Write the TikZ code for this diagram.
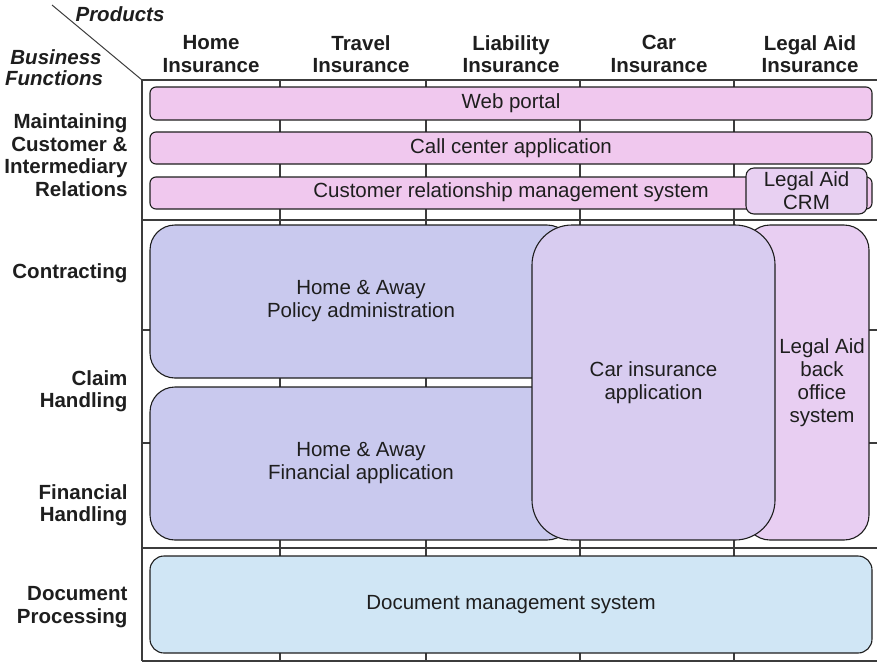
\documentclass[tikz,border=0pt]{standalone}
\usepackage{fontspec}
\setmainfont{Liberation Sans}
\definecolor{pinkbar}{RGB}{240,200,238}
\definecolor{lacrm}{RGB}{232,208,242}
\definecolor{hablue}{RGB}{201,201,238}
\definecolor{carlav}{RGB}{216,204,240}
\definecolor{labo}{RGB}{232,206,242}
\definecolor{docblue}{RGB}{208,230,245}
\definecolor{ink}{RGB}{30,30,30}
\definecolor{gridc}{RGB}{60,60,60}
\begin{document}
\begin{tikzpicture}[x=1pt,y=-1pt,
  gridline/.style={draw=gridc,line width=1.3pt},
  box/.style={draw=ink,line width=1.1pt,inner sep=0pt,align=center,text=ink,
    font=\fontsize{20.5}{23}\selectfont},
  head/.style={align=center,text=ink,font=\fontsize{20.5}{22.5}\selectfont\bfseries},
  rowlab/.style={align=right,anchor=east,text=ink,font=\fontsize{20.5}{22.5}\selectfont\bfseries},
  corner/.style={text=ink,font=\fontsize{20.5}{21}\selectfont\bfseries\itshape},
  txt/.style={align=center,text=ink,font=\fontsize{20.5}{23}\selectfont}]
\useasboundingbox (0,0) rectangle (877,662);
% grid
\foreach \yy in {80,220,330,443,548,661} \draw[gridline] (142,\yy) -- (878,\yy);
\foreach \xx in {142,280,426,580,734} \draw[gridline] (\xx,80) -- (\xx,661);
\draw[gridline,line width=1pt] (52,5) -- (142,80);
% corner labels
\node[corner] (prod) at (120,14) {Products};
\node[corner] (bus) at (56,57) {Business};
\node[corner] (fun) at (54,78) {Functions};
% column headers
\node[head] (h1) at (211,54) {Home\\Insurance};
\node[head] (h2) at (361,54) {Travel\\Insurance};
\node[head] (h3) at (511,54) {Liability\\Insurance};
\node[head] (h4) at (659,54) {Car\\Insurance};
\node[head] (h5) at (810,54) {Legal Aid\\Insurance};
% row labels
\node[rowlab] (r1) at (131,155) {Maintaining\\Customer \&\\Intermediary\\Relations};
\node[rowlab] (r2) at (131,273) {Contracting};
\node[rowlab] (r3) at (131,391) {Claim\\Handling};
\node[rowlab] (r4) at (131,505) {Financial\\Handling};
\node[rowlab] (r5) at (131,607) {Document\\Processing};
% bars
\node[box,fill=pinkbar,rounded corners=6pt,minimum width=722pt,minimum height=33pt] (web) at (511,103.5) {Web portal};
\node[box,fill=pinkbar,rounded corners=6pt,minimum width=722pt,minimum height=32pt] (call) at (511,148) {Call center application};
\node[box,fill=pinkbar,rounded corners=6pt,minimum width=722pt,minimum height=32pt] (crm) at (511,193) {};
\node[txt] (crmt) at (511,192) {Customer relationship management system};
\node[box,fill=lacrm,rounded corners=8pt,minimum width=121pt,minimum height=46pt] (lacrm) at (806.5,191) {Legal Aid\\CRM};
% big boxes
\node[box,fill=hablue,rounded corners=25pt,minimum width=422pt,minimum height=153pt] (pol) at (361,301.5) {Home \& Away\\Policy administration};
\node[box,fill=hablue,rounded corners=25pt,minimum width=422pt,minimum height=153pt] (fin) at (361,463.5) {Home \& Away\\Financial application};
\node[box,fill=labo,rounded corners=25pt,minimum width=124pt,minimum height=315pt] (labo) at (807,382.5) {};
\node[txt] (labot) at (822,383) {Legal Aid\\back\\office\\system};
\node[box,fill=carlav,rounded corners=40pt,minimum width=243pt,minimum height=315pt] (car) at (653.5,382.5) {Car insurance\\application};
\node[box,fill=docblue,rounded corners=14pt,minimum width=722pt,minimum height=97pt] (doc) at (511,604.5) {Document management system};
\end{tikzpicture}
\end{document}
